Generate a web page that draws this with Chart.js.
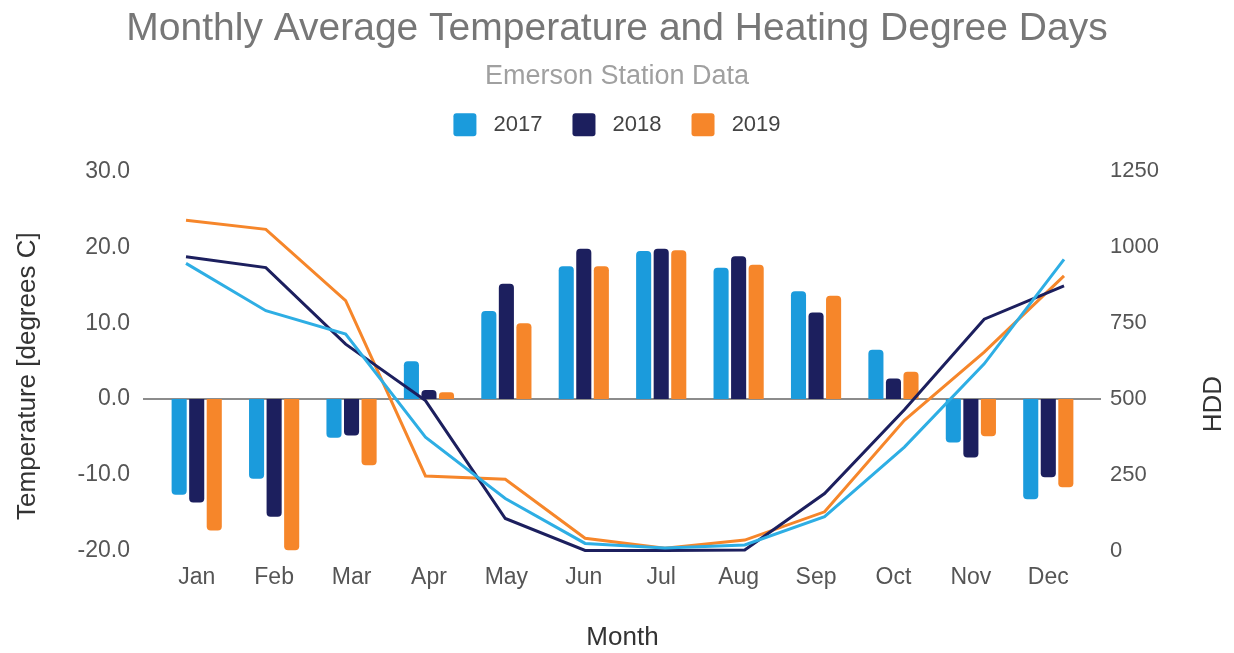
<!DOCTYPE html>
<html>
<head>
<meta charset="utf-8">
<title>Monthly Average Temperature and Heating Degree Days</title>
<script src="https://cdn.jsdelivr.net/npm/chart.js@4.4.1/dist/chart.umd.min.js"></script>
<style>
  html, body { margin: 0; padding: 0; background: #fff; }
  #wrap { position: relative; width: 1234px; height: 653px; }
  #wrap canvas { position: absolute; left: 0; top: 0; }
</style>
</head>
<body>
<div id="wrap">
  <canvas id="chart" width="1234" height="653"></canvas>
  <canvas id="lines" width="1234" height="653"></canvas>
</div>
<script>
const months = ['Jan', 'Feb', 'Mar', 'Apr', 'May', 'Jun', 'Jul', 'Aug', 'Sep', 'Oct', 'Nov', 'Dec'];
const years = ['2017', '2018', '2019'];

// monthly average temperature, degrees C
const temp2017 = [-12.6, -10.5, -5.1, 5.0, 11.6, 17.5, 19.5, 17.3, 14.2, 6.5, -5.7, -13.2];
const temp2018 = [-13.6, -15.5, -4.8, 1.2, 15.2, 19.8, 19.8, 18.8, 11.4, 2.7, -7.7, -10.3];
const temp2019 = [-17.3, -19.9, -8.7, 0.9, 10.0, 17.5, 19.6, 17.7, 13.6, 3.6, -4.9, -11.6];

// heating degree days
const hdd2017 = [947, 791, 714, 375, 173, 25, 10, 20, 113, 342, 616, 960];
const hdd2018 = [969, 933, 681, 495, 107, 2, 2, 3, 189, 465, 763, 873];
const hdd2019 = [1089, 1059, 824, 247, 236, 42, 9, 36, 129, 430, 655, 906];

const tempTicks = [-20, -10, 0, 10, 20, 30];
const hddTicks = [0, 250, 500, 750, 1000, 1250];

const barColors = ['#1b9bdc', '#1c1f5e', '#f6862a'];
const lineColors = ['#2eaee4', '#1c1f5e', '#f6862a'];
const FONT = "'Liberation Sans', Arial, sans-serif";

const temps = [temp2017, temp2018, temp2019];
const hdds = [hdd2017, hdd2018, hdd2019];

// zero line that runs a bit past the plot, plus the rotated axis titles
const extras = {
  id: 'extras',
  beforeDatasetsDraw(chart) {
    const { ctx, chartArea, scales } = chart;
    const y0 = scales.y.getPixelForValue(0);
    ctx.save();
    ctx.strokeStyle = '#8c8c8c';
    ctx.lineWidth = 2;
    ctx.beginPath();
    ctx.moveTo(chartArea.left - 15, y0);
    ctx.lineTo(chartArea.right + 14, y0);
    ctx.stroke();
    ctx.restore();
  },
  afterDraw(chart) {
    const { ctx, chartArea } = chart;
    const midY = (chartArea.top + chartArea.bottom) / 2;
    ctx.save();
    ctx.fillStyle = '#333333';
    ctx.textAlign = 'center';
    ctx.textBaseline = 'middle';
    ctx.font = '26px ' + FONT;

    ctx.save();
    ctx.translate(chartArea.left - 130, midY + 15);
    ctx.rotate(-Math.PI / 2);
    ctx.fillText('Temperature [degrees C]', 0, 0);
    ctx.restore();

    ctx.save();
    ctx.translate(chartArea.right + 127, midY + 43);
    ctx.rotate(-Math.PI / 2);
    ctx.fillText('HDD', 0, 0);
    ctx.restore();

    ctx.restore();
  },
};

const barChart = new Chart(document.getElementById('chart'), {
  type: 'bar',
  data: {
    labels: months,
    datasets: years.map((yr, i) => ({
      label: yr,
      data: temps[i],
      backgroundColor: barColors[i],
      borderWidth: 0,
      borderRadius: 4,
      categoryPercentage: 0.68,
      barPercentage: 0.86,
    })),
  },
  options: {
    responsive: false,
    animation: false,
    layout: { padding: 0 },
    plugins: {
      title: {
        display: true,
        text: 'Monthly Average Temperature and Heating Degree Days',
        color: '#777777',
        font: { family: FONT, size: 39, weight: 'normal', lineHeight: 1.2 },
        padding: { top: 6, bottom: 10 },
      },
      subtitle: {
        display: true,
        text: 'Emerson Station Data',
        color: '#a0a0a0',
        font: { family: FONT, size: 27, weight: 'normal', lineHeight: 1.0 },
        padding: { top: 0, bottom: -6.5 },
      },
      legend: {
        display: true,
        position: 'top',
        labels: {
          generateLabels: (chart) => Chart.defaults.plugins.legend.labels.generateLabels(chart)
            .map((item) => ({ ...item, text: ' ' + item.text })),
          color: '#444444',
          font: { family: FONT, size: 22 },
          boxWidth: 23,
          boxHeight: 23,
          useBorderRadius: true,
          borderRadius: 3,
          padding: 30,
        },
      },
      tooltip: { enabled: false },
    },
    scales: {
      x: {
        type: 'category',
        position: 'bottom',
        grid: { display: false, drawTicks: false },
        border: { display: false },
        ticks: { color: '#555555', font: { family: FONT, size: 23 }, padding: 13 },
        title: {
          display: true,
          text: 'Month',
          color: '#333333',
          font: { family: FONT, size: 26 },
          padding: { top: 0, bottom: 0 },
        },
        afterFit: (s) => { s.height = 102; },
      },
      // empty axis used only as a spacer between legend and plot
      gap: {
        type: 'linear',
        axis: 'x',
        position: 'top',
        grid: { display: false, drawTicks: false },
        border: { display: false },
        ticks: { display: false },
        afterFit: (s) => { s.height = 25; },
      },
      y: {
        type: 'linear',
        position: 'left',
        min: tempTicks[0],
        max: tempTicks[tempTicks.length - 1],
        afterBuildTicks: (s) => { s.ticks = tempTicks.map((v) => ({ value: v })); },
        grid: { display: false, drawTicks: false },
        border: { display: false },
        ticks: {
          color: '#555555',
          font: { family: FONT, size: 23 },
          padding: 28,
          callback: (v) => Number(v).toFixed(1),
        },
        afterFit: (s) => { s.width = 158; },
      },
      y1: {
        type: 'linear',
        position: 'right',
        min: hddTicks[0],
        max: hddTicks[hddTicks.length - 1],
        afterBuildTicks: (s) => { s.ticks = hddTicks.map((v) => ({ value: v })); },
        grid: { display: false, drawTicks: false },
        border: { display: false },
        ticks: {
          color: '#555555',
          font: { family: FONT, size: 22 },
          padding: 23,
          callback: (v) => String(v),
        },
        afterFit: (s) => { s.width = 147; },
      },
    },
  },
  plugins: [extras],
});

// HDD lines: a transparent chart laid over the bars, sharing the plot area
const area = barChart.chartArea;
const W = barChart.width;
const H = barChart.height;

new Chart(document.getElementById('lines'), {
  type: 'line',
  data: {
    datasets: years.map((yr, i) => ({
      label: yr + ' HDD',
      data: hdds[i].map((v, m) => ({ x: m, y: v })),
      borderColor: lineColors[i],
      backgroundColor: lineColors[i],
      borderWidth: 3,
      pointRadius: 0,
      tension: 0,
      clip: false,
    })),
  },
  options: {
    responsive: false,
    animation: false,
    layout: {
      padding: { left: area.left, top: area.top, right: W - area.right, bottom: H - area.bottom },
    },
    plugins: { legend: { display: false }, tooltip: { enabled: false } },
    scales: {
      x: { type: 'linear', display: false, min: -0.351, max: 11.288 },
      y: { type: 'linear', display: false, min: hddTicks[0], max: hddTicks[hddTicks.length - 1] },
    },
  },
});
</script>
</body>
</html>
